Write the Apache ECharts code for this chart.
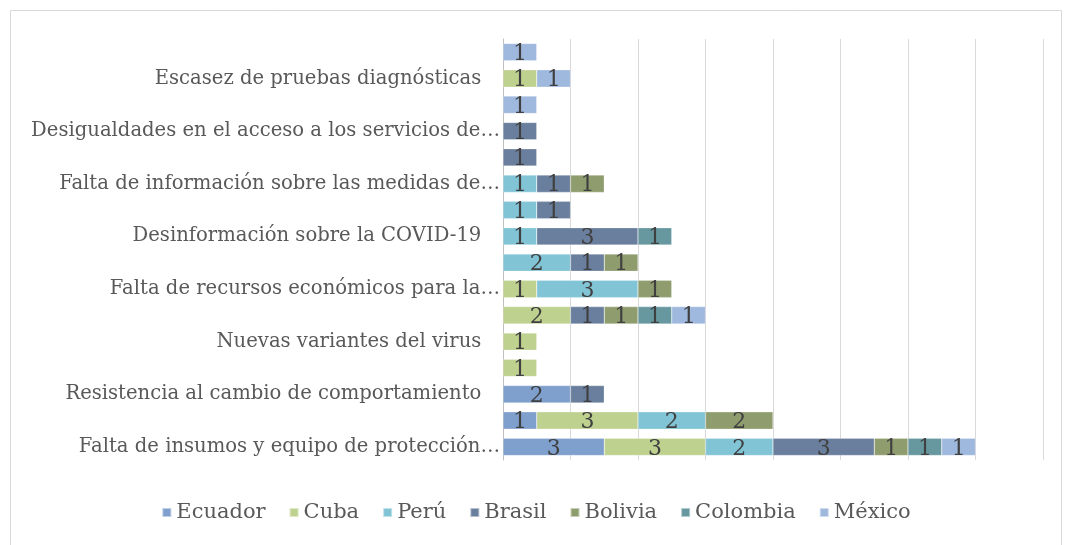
<!DOCTYPE html>
<html>
<head>
<meta charset="utf-8">
<script src="https://cdn.jsdelivr.net/npm/echarts@6/dist/echarts.min.js"></script>
<style>
  html, body { margin: 0; padding: 0; background: #fff; }
  #chart { width: 1072px; height: 545px; }
</style>
</head>
<body>
<div id="chart"></div>
<script>
// categorias de abajo hacia arriba (las vacias no se ven en el original)
const categories = [
  'Falta de insumos y equipo de protección…', '',
  'Resistencia al cambio de comportamiento   ', '',
  'Nuevas variantes del virus   ', '',
  'Falta de recursos económicos para la…', '',
  'Desinformación sobre la COVID-19   ', '',
  'Falta de información sobre las medidas de…', '',
  'Desigualdades en el acceso a los servicios de…', '',
  'Escasez de pruebas diagnósticas   ', ''
]
const countries = ['Ecuador', 'Cuba', 'Perú', 'Brasil', 'Bolivia', 'Colombia', 'México']
const colors = ['#7f9fcd', '#bed18f', '#80c4d6', '#6a7f9d', '#8f9d6e', '#67989f', '#9fb8de']

const ecuador  = [3, 1, 2, null, null, null, null, null, null, null, null, null, null, null, null, null]
const cuba     = [3, 3, null, 1, 1, 2, 1, null, null, null, null, null, null, null, 1, null]
const peru     = [2, 2, null, null, null, null, 3, 2, 1, 1, 1, null, null, null, null, null]
const brasil   = [3, null, 1, null, null, 1, null, 1, 3, 1, 1, 1, 1, null, null, null]
const bolivia  = [1, 2, null, null, null, 1, 1, 1, null, null, 1, null, null, null, null, null]
const colombia = [1, null, null, null, null, 1, null, null, 1, null, null, null, null, null, null, null]
const mexico   = [1, null, null, null, null, 1, null, null, null, null, null, null, null, 1, 1, 1]
const seriesData = [ecuador, cuba, peru, brasil, bolivia, colombia, mexico]

const FONT = 'DejaVu Serif'
const chart = echarts.init(document.getElementById('chart'))

chart.setOption({
  animation: false,
  color: colors,
  graphic: [{
    type: 'rect',
    shape: { x: 10.5, y: 10.5, width: 1051, height: 545 },
    style: { fill: 'none', stroke: '#d9d9d9', lineWidth: 1 },
    silent: true
  }],
  grid: { left: 503, right: 29, top: 39, bottom: 85, containLabel: false },
  legend: {
    bottom: 17,
    left: 'center',
    itemWidth: 9,
    itemHeight: 9,
    itemGap: 23,
    icon: 'rect',
    textStyle: { fontFamily: FONT, fontSize: 21, color: '#595959' },
    data: countries
  },
  xAxis: {
    type: 'value',
    min: 0,
    max: 16,
    interval: 2,
    axisLabel: { show: false },
    axisLine: { show: false },
    axisTick: { show: false },
    splitLine: { lineStyle: { color: '#d9d9d9', width: 1 } }
  },
  yAxis: {
    type: 'category',
    data: categories,
    axisLine: { show: true, lineStyle: { color: '#bfbfbf', width: 1 } },
    axisTick: { show: false },
    axisLabel: {
      interval: 1,
      margin: 3,
      fontFamily: FONT,
      fontSize: 19.6,
      color: '#595959'
    }
  },
  series: countries.map((name, i) => ({
    name: name,
    type: 'bar',
    stack: 'total',
    barCategoryGap: '34%',
    data: seriesData[i],
    itemStyle: { borderColor: 'rgba(255,255,255,0.5)', borderWidth: 0.5 },
    label: {
      show: true,
      position: 'inside',
      offset: [0, 2],
      fontFamily: FONT,
      fontSize: 22,
      color: '#404040'
    }
  }))
})
</script>
</body>
</html>
